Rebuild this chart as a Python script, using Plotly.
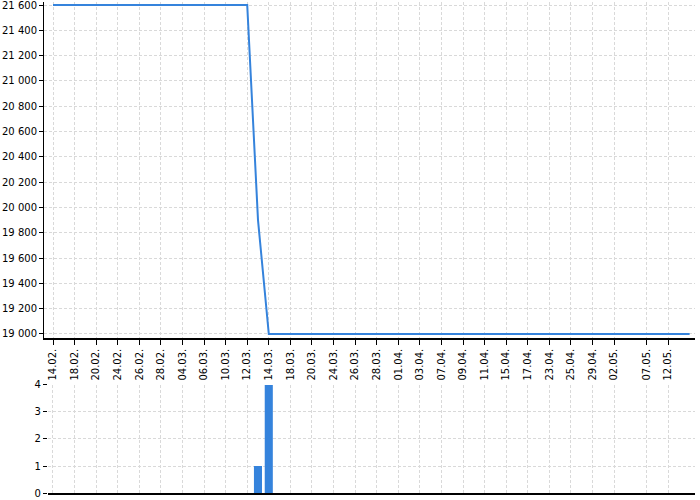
import plotly.graph_objects as go

tick_labels = ["14.02.", "18.02.", "20.02.", "24.02.", "26.02.", "28.02.", "04.03.", "06.03.",
               "10.03.", "12.03.", "14.03.", "18.03.", "20.03.", "24.03.", "26.03.", "28.03.",
               "01.04.", "03.04.", "07.04.", "09.04.", "11.04.", "15.04.", "17.04.", "23.04.",
               "25.04.", "29.04.", "02.05.", "07.05.", "12.05."]
tick_index = [0, 2, 4, 6, 8, 10, 12, 14, 16, 18, 20, 22, 24, 26, 28, 30, 32, 34, 36, 38,
              40, 42, 44, 46, 48, 50, 52, 55, 57]

price_index = [0, 18, 19, 20, 59]
price_values = [21600, 21600, 19900, 19000, 19000]

volume_index = [19, 20]
volume_values = [1, 4]

blue = "#3583dc"
font = dict(family="DejaVu Sans", size=10, color="#000")

fig = go.Figure()
fig.add_trace(go.Scatter(x=price_index, y=price_values, mode="lines",
                         line=dict(color=blue, width=2), xaxis="x", yaxis="y",
                         hoverinfo="skip"))
fig.add_trace(go.Bar(x=volume_index, y=volume_values, marker=dict(color=blue, line=dict(width=0)),
                     width=0.75, xaxis="x2", yaxis="y2", hoverinfo="skip"))

grid = dict(showgrid=True, gridcolor="#d9d9d9", gridwidth=1, griddash="3px,2px")

fig.update_layout(
    width=700, height=500,
    margin=dict(l=44, r=5, t=2, b=7, autoexpand=False),
    paper_bgcolor="white", plot_bgcolor="white",
    showlegend=False,
    separators=". ",
    font=font,
    xaxis=dict(domain=[0, 1], range=[-0.834, 59.5], tickmode="array",
               tickvals=tick_index, ticktext=tick_labels, tickangle=-90,
               ticks="outside", ticklen=5, tickcolor="#000", showline=True,
               linecolor="#000", linewidth=1.5, zeroline=False, anchor="y",
               automargin=False, ticklabeloverflow="allow",
               tickfont=dict(family="DejaVu Sans", size=10), **grid),
    yaxis=dict(domain=[0.3157, 1], range=[18968.4, 21623.7], tickmode="array",
               tickvals=list(range(19000, 21601, 200)), tickformat=",d",
               ticks="outside", ticklen=4, tickcolor="#000", showline=True,
               linecolor="#000", linewidth=1, zeroline=False, anchor="x",
               automargin=False, ticklabeloverflow="allow",
               tickfont=dict(family="DejaVu Sans", size=10), **grid),
    xaxis2=dict(domain=[0.0061, 1], range=[-0.463, 59.5], tickmode="array",
                tickvals=tick_index, showticklabels=False, ticks="",
                showline=True, linecolor="#000", linewidth=1.5, zeroline=False,
                anchor="y2", automargin=False, **grid),
    yaxis2=dict(domain=[0, 0.22], range=[0, 4], tickmode="array", tickvals=[0, 1, 2, 3, 4],
                ticks="outside", ticklen=4, tickcolor="#000", showline=False,
                zeroline=False, anchor="x2", automargin=False, ticklabeloverflow="allow",
                tickfont=dict(family="DejaVu Sans", size=10), **grid),
)

fig.write_html("out.html", config={"displayModeBar": False},
               post_script="document.body.style.margin='0';")
